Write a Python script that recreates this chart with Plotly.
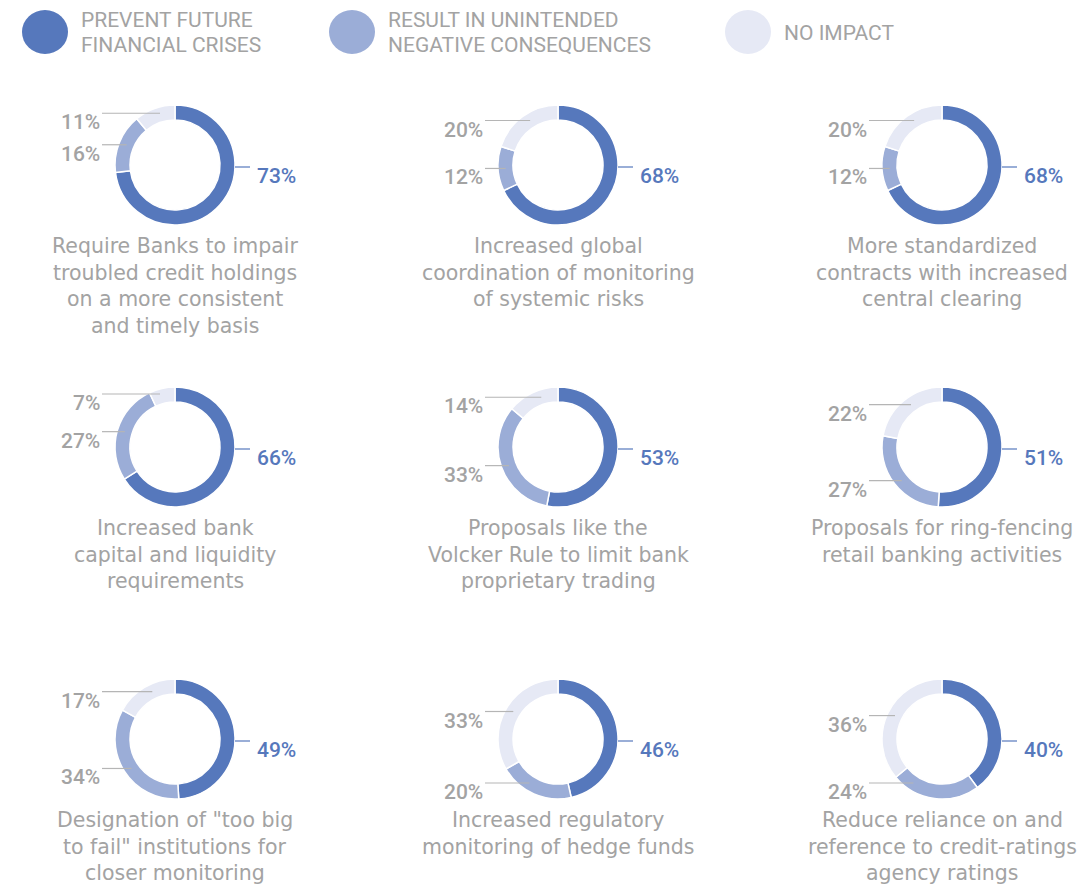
import math
import plotly.graph_objects as go

# ---------------- data ----------------
series_lines = [["PREVENT FUTURE", "FINANCIAL CRISES"],
                ["RESULT IN UNINTENDED", "NEGATIVE CONSEQUENCES"],
                ["NO IMPACT"]]
categories = [
    "Require Banks to impair<br>troubled credit holdings<br>on a more consistent<br>and timely basis",
    "Increased global<br>coordination of monitoring<br>of systemic risks",
    "More standardized<br>contracts with increased<br>central clearing",
    "Increased bank<br>capital and liquidity<br>requirements",
    "Proposals like the<br>Volcker Rule to limit bank<br>proprietary trading",
    "Proposals for ring-fencing<br>retail banking activities",
    "Designation of \"too big<br>to fail\" institutions for<br>closer monitoring",
    "Increased regulatory<br>monitoring of hedge funds",
    "Reduce reliance on and<br>reference to credit-ratings<br>agency ratings",
]
prevent = [73, 68, 68, 66, 53, 51, 49, 46, 40]
negative = [16, 12, 12, 27, 33, 27, 34, 20, 24]
no_impact = [11, 20, 20, 7, 14, 22, 17, 33, 36]

# ---------------- style / layout ----------------
W, H = 1085, 889
OFF = 8  # page body margin
colors = ["#5678BC", "#9BADD7", "#E6E9F5"]
gray_text = "#A3A3A3"
line_gray = "#B5B5B5"
col_x = [175, 558, 942]
row_y = [165, 447, 739]
R = 60
FONT = "Roboto"
CAP_FONT = "DejaVu Sans"

def px(x):
    return (x - OFF) / W

def py(y):
    return 1 - (y - OFF) / H

fig = go.Figure()
annotations = []
shapes = []

for i, cat in enumerate(categories):
    cx = col_x[i % 3]
    cy = row_y[i // 3]
    vals = [prevent[i], negative[i], no_impact[i]]
    fig.add_trace(go.Pie(
        values=vals,
        labels=["Prevent", "Negative", "No impact"],
        hole=0.75,
        sort=False,
        direction="clockwise",
        rotation=0,
        textinfo="none",
        hoverinfo="label+percent",
        marker=dict(colors=colors, line=dict(color="white", width=1.5)),
        domain=dict(x=[px(cx - R), px(cx + R)], y=[py(cy + R), py(cy - R)]),
        showlegend=False,
    ))

    # blue label (right side)
    shapes.append(dict(type="line", xref="paper", yref="paper",
                       x0=px(cx + R), x1=px(cx + R + 15), y0=py(cy + 2), y1=py(cy + 2),
                       line=dict(color=colors[0], width=1.2)))
    annotations.append(dict(x=px(cx + R + 20), y=py(cy + 11), xref="paper", yref="paper",
                            text=f"{vals[0]}%", showarrow=False, xanchor="left", yanchor="middle",
                            font=dict(family=FONT, size=21, color=colors[0], weight=500)))

    # other labels (left side)
    total = sum(vals)
    start = vals[0]
    for k in (1, 2):
        mid = (start + vals[k] / 2) / total * 2 * math.pi
        start += vals[k]
        dy = 55 * math.cos(mid)
        dy = max(-44, min(53, dy))
        ly = cy - dy
        rx = math.sqrt(max(52.5 ** 2 - dy ** 2, 15 ** 2))
        shapes.append(dict(type="line", xref="paper", yref="paper",
                           x0=px(cx - 73), x1=px(cx - rx), y0=py(ly), y1=py(ly),
                           line=dict(color=line_gray, width=1.2)))
        annotations.append(dict(x=px(cx - 73), y=py(ly + 9), xref="paper", yref="paper",
                                text=f"{vals[k]}%", showarrow=False, xanchor="right", yanchor="middle",
                                font=dict(family=FONT, size=21, color=gray_text, weight=500)))

    # category caption, one annotation per line for exact spacing
    for n, ln in enumerate(cat.split("<br>")):
        annotations.append(dict(x=px(cx), y=py(cy + 81 + 26.7 * n), xref="paper", yref="paper",
                                text=ln, showarrow=False, xanchor="center", yanchor="middle",
                                font=dict(family=CAP_FONT, size=20.5, color=gray_text)))

# legend
leg_x = [45, 352, 748]
for j, lines in enumerate(series_lines):
    shapes.append(dict(type="circle", xref="paper", yref="paper",
                       x0=px(leg_x[j] - 23), x1=px(leg_x[j] + 23),
                       y0=py(32 + 22), y1=py(32 - 22),
                       fillcolor=colors[j], line=dict(width=0)))
    ys = [33] if len(lines) == 1 else [20, 45]
    for ln, yy in zip(lines, ys):
        annotations.append(dict(x=px(leg_x[j] + 34), y=py(yy), xref="paper", yref="paper",
                                text=ln, showarrow=False, xanchor="left", yanchor="middle",
                                font=dict(family=FONT, size=21, color=gray_text)))

fig.update_layout(
    width=W, height=H,
    margin=dict(l=0, r=0, t=0, b=0),
    paper_bgcolor="white", plot_bgcolor="white",
    annotations=annotations, shapes=shapes,
)

fig.write_html("out.html")
